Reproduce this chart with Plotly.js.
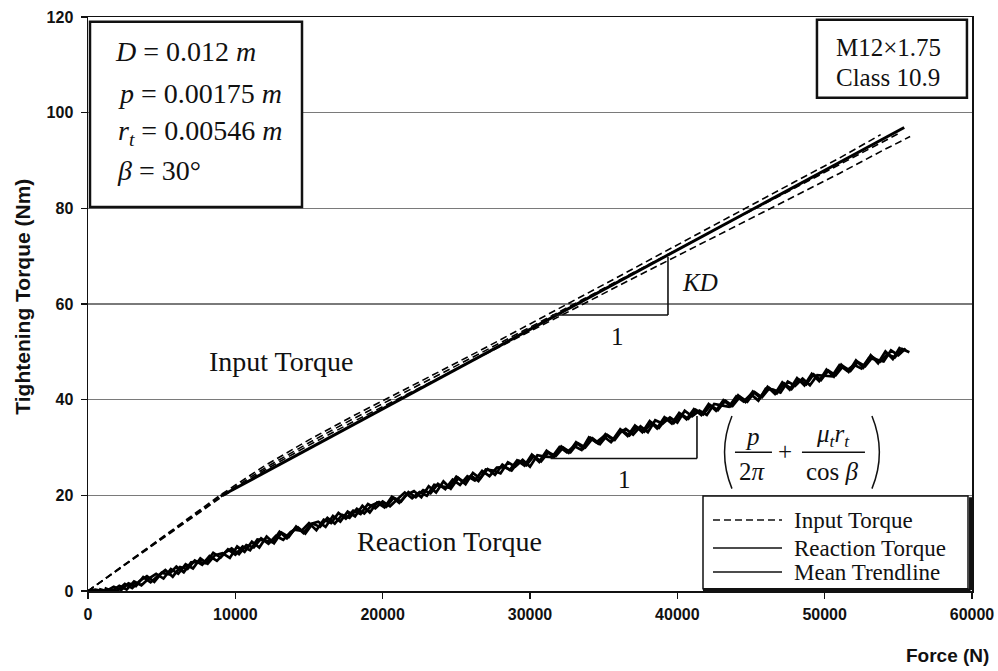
<!DOCTYPE html>
<html>
<head>
<meta charset="utf-8">
<script src="https://cdn.plot.ly/plotly-3.0.1.min.js"></script>
<style>body{margin:0;background:#fff;}#chart{width:998px;height:671px;}</style>
</head>
<body>
<div id="chart"></div>
<script>
// ---- Data ----
const inputForceA  = [0,3000,6000,9000,12000,15000,18000,21000,24000,27000,30000,33000,36000,39000,42000,45000,48000,51000,53800];
const inputTorqueA = [0,6.7,13.4,20.1,26.2,31.6,36.6,41.3,46.1,50.9,55.8,60.7,65.7,70.7,75.7,80.7,85.6,90.5,95.4];
const inputForceB  = [0,3000,6000,9000,12000,15000,18000,21000,24000,27000,30000,33000,36000,39000,42000,45000,48000,51000,54000,55000];
const inputTorqueB = [0,6.6,13.2,19.8,25.7,31.0,36.0,40.7,45.5,50.3,55.1,60.0,64.9,69.8,74.7,79.5,84.3,89.1,93.9,95.6];
const inputForceC  = [0,3000,6000,9000,12000,15000,18000,21000,24000,27000,30000,33000,36000,39000,42000,45000,48000,51000,54000,55800];
const inputTorqueC = [0,6.5,13.0,19.5,25.3,30.5,35.4,40.1,44.8,49.6,54.3,59.0,63.8,68.5,73.2,77.9,82.6,87.3,92.2,95.0];

const meanForce  = [9000, 55400];
const meanTorque = [19.8, 96.9];

const reactForce1 = [0,500,1000,1500,2000,2500,3000,3500,4000,4500,5000,5500,6000,6500,7000,7500,8000,8500,9000,9500,
 10000,10500,11000,11500,12000,12500,13000,13500,14000,14500,15000,15500,16000,16500,17000,17500,18000,18500,19000,19500,
 20000,20500,21000,21500,22000,22500,23000,23500,24000,24500,25000,25500,26000,26500,27000,27500,28000,28500,29000,29500,
 30000,30500,31000,31500,32000,32500,33000,33500,34000,34500,35000,35500,36000,36500,37000,37500,38000,38500,39000,39500,
 40000,40500,41000,41500,42000,42500,43000,43500,44000,44500,45000,45500,46000,46500,47000,47500,48000,48500,49000,49500,
 50000,50500,51000,51500,52000,52500,53000,53500,54000,54500,55000,55500];
const reactTorque1 = [0.0,0.3,0.0,0.3,0.1,1.5,0.6,2.1,3.1,1.9,3.8,3.5,5.1,3.9,6.0,6.1,5.8,8.0,7.0,8.7,
 7.6,9.3,8.5,10.8,10.6,10.2,12.4,11.0,12.8,12.6,14.2,12.7,14.9,14.2,16.3,15.1,16.8,16.1,18.2,17.3,
 18.7,17.7,19.2,20.6,19.4,20.7,19.9,22.2,21.9,21.6,23.9,22.8,24.1,23.0,25.4,25.2,24.6,26.9,26.0,27.4,
 26.0,28.4,28.1,28.0,30.1,29.0,30.3,29.5,32.1,31.1,32.3,31.1,32.9,33.9,32.7,34.4,33.2,35.7,35.0,36.3,
 35.2,37.7,36.5,37.7,36.8,39.1,38.8,38.5,40.7,39.6,41.1,39.8,42.3,42.1,41.5,43.8,42.9,44.4,43.0,45.1,
 45.0,44.9,47.2,46.1,47.3,46.5,48.7,48.4,48.0,50.3,49.3,50.7];

const reactForce2 = [750,1250,1750,2250,2750,3250,3750,4250,4750,5250,5750,6250,6750,7250,7750,8250,8750,9250,9750,
 10250,10750,11250,11750,12250,12750,13250,13750,14250,14750,15250,15750,16250,16750,17250,17750,18250,18750,19250,19750,
 20250,20750,21250,21750,22250,22750,23250,23750,24250,24750,25250,25750,26250,26750,27250,27750,28250,28750,29250,29750,
 30250,30750,31250,31750,32250,32750,33250,33750,34250,34750,35250,35750,36250,36750,37250,37750,38250,38750,39250,39750,
 40250,40750,41250,41750,42250,42750,43250,43750,44250,44750,45250,45750,46250,46750,47250,47750,48250,48750,49250,49750,
 50250,50750,51250,51750,52250,52750,53250,53750,54250,54750,55250,55750];
const reactTorque2 = [0.4,0.0,0.9,0.2,1.6,1.0,2.9,1.8,3.2,4.4,3.0,5.0,4.6,6.4,5.5,7.3,6.3,7.9,8.9,
 7.7,9.6,9.1,11.0,9.9,11.5,10.7,12.3,13.3,12.0,14.1,13.4,15.3,14.1,15.9,15.3,17.2,16.2,17.9,18.6,
 17.6,19.5,18.7,20.7,19.6,21.1,20.4,22.4,21.3,23.3,22.2,24.0,23.1,25.1,24.0,25.8,25.9,25.2,27.2,26.3,
 28.2,27.1,29.0,28.2,30.0,29.0,30.9,30.0,31.9,30.7,32.6,31.6,33.6,32.5,34.3,33.3,35.2,34.1,36.1,35.1,
 37.0,36.0,37.9,36.9,38.8,37.8,39.8,38.7,40.6,39.6,41.6,40.5,42.4,41.3,43.4,42.2,44.2,43.2,45.3,44.1,
 46.1,45.1,47.0,46.0,47.9,47.0,48.9,47.9,49.5,48.8,50.6,49.9];

const reactForce3 = [1125,1625,2125,2625,3125,3625,4125,4625,5125,5625,6125,6625,7125,7625,8125,8625,9125,9625,
 10125,10625,11125,11625,12125,12625,13125,13625,14125,14625,15125,15625,16125,16625,17125,17625,18125,18625,19125,19625,
 20125,20625,21125,21625,22125,22625,23125,23625,24125,24625,25125,25625,26125,26625,27125,27625,28125,28625,29125,29625,
 30125,30625,31125,31625,32125,32625,33125,33625,34125,34625,35125,35625,36125,36625,37125,37625,38125,38625,39125,39625,
 40125,40625,41125,41625,42125,42625,43125,43625,44125,44625,45125,45625,46125,46625,47125,47625,48125,48625,49125,49625,
 50125,50625,51125,51625,52125,52625,53125,53625,54125,54625,55125];
const reactTorque3 = [0.6,0.0,1.1,0.3,2.0,1.2,2.6,3.6,2.6,4.6,3.6,5.6,4.7,6.8,5.7,7.5,7.9,6.9,
 9.3,8.2,10.3,9.1,11.4,10.0,12.2,11.3,13.5,12.1,14.0,14.5,13.4,15.7,14.5,16.6,15.6,17.8,16.4,18.5,
 17.5,19.7,18.4,20.1,20.9,19.6,21.9,20.6,22.9,21.4,23.6,22.3,24.7,23.5,25.5,24.3,26.4,25.3,27.3,26.2,
 28.5,27.0,29.3,28.0,30.2,28.9,31.1,29.8,32.0,30.8,32.8,31.6,33.8,32.4,34.6,33.2,35.5,34.0,36.3,35.0,
 37.2,35.9,38.0,36.8,39.1,37.7,39.9,38.6,40.9,39.5,41.7,40.4,42.7,41.2,43.6,42.1,44.5,43.0,45.4,43.9,
 46.3,44.8,47.3,45.8,48.2,46.7,49.3,47.6,50.1,48.5,51.0];

const xTickVals = [0,10000,20000,30000,40000,50000,60000];
const yTickVals = [0,20,40,60,80,100,120];
const legendLabels = ["Input Torque","Reaction Torque","Mean Trendline"];

// ---- Traces ----
const serif = "Liberation Serif, Times New Roman, serif";
const sans = "Liberation Sans, Arial, sans-serif";
const reactLine = {color:"#000", width:2.7};
const traces = [
  {x: reactForce1, y: reactTorque1, mode:"lines", line:reactLine},
  {x: reactForce2, y: reactTorque2, mode:"lines", line:reactLine},
  {x: reactForce3, y: reactTorque3, mode:"lines", line:reactLine},
  {x: inputForceA, y: inputTorqueA, mode:"lines", line:{color:"#000", width:1.6, dash:"7px,4px"}},
  {x: inputForceB, y: inputTorqueB, mode:"lines", line:{color:"#000", width:1.6, dash:"7px,4px"}},
  {x: inputForceC, y: inputTorqueC, mode:"lines", line:{color:"#000", width:1.6, dash:"7px,4px"}},
  {x: meanForce, y: meanTorque, mode:"lines", line:{color:"#000", width:3}}
];

function txt(text, x, y, size, extra) {
  return Object.assign({text: text, x: x, y: y, xref:"x", yref:"y", showarrow:false,
    font:{family: serif, size: size, color:"#111"}}, extra || {});
}

const annotations = [
  // top-left parameter box
  txt("<i>D</i> = 0.012 <i>m</i>", 1700, 112.7, 28, {xanchor:"left"}),
  txt("<i>p</i> = 0.00175 <i>m</i>", 1900, 104.1, 28, {xanchor:"left"}),
  txt("<i>r<sub>t</sub></i> = 0.00546 <i>m</i>", 1900, 95.8, 28, {xanchor:"left"}),
  txt("<i>β</i> = 30°", 1800, 88.0, 28, {xanchor:"left"}),
  // top-right box
  txt("M12×1.75", 54300, 113.7, 25),
  txt("Class 10.9", 54300, 107.4, 25),
  // curve labels
  txt("Input Torque", 8077, 47.9, 28, {xanchor:"left"}),
  txt("Reaction Torque", 18121, 10.3, 28, {xanchor:"left"}),
  // slope triangle labels
  txt("<i>KD</i>", 40180, 64.4, 25, {xanchor:"left"}),
  txt("1", 35972, 53.3, 25),
  txt("1", 36447, 23.4, 25),
  // formula
  txt("<i>p</i>", 45134, 32.4, 25),
  txt("2<i>π</i>", 45134, 25.0, 25),
  txt("+", 47305, 29.2, 25),
  txt("<i>μ<sub>t</sub>r<sub>t</sub></i>", 50564, 32.6, 25),
  txt("cos <i>β</i>", 50564, 25.0, 25),
  // legend texts
  txt(legendLabels[0], 47783, 14.84, 23, {xanchor:"left"}),
  txt(legendLabels[1], 47783, 8.99, 23, {xanchor:"left"}),
  txt(legendLabels[2], 47783, 3.97, 23, {xanchor:"left"}),
  // axis titles
  {text:"<b>Tightening Torque (Nm)</b>", xref:"paper", yref:"paper", x:-0.074, y:0.512, textangle:-90,
   showarrow:false, xanchor:"center", yanchor:"middle", font:{family: sans, size: 21, color:"#111"}},
  {text:"<b>Force (N)</b>", xref:"paper", yref:"paper", x:1.021, y:-0.112, showarrow:false,
   xanchor:"right", yanchor:"middle", font:{family: sans, size: 19, color:"#111"}}
];

const L = (x0,y0,x1,y1,w,dash) => ({type:"line", xref:"x", yref:"y", x0:x0, y0:y0, x1:x1, y1:y1,
  line:{color:"#111", width:w || 1.5, dash: dash || "solid"}});
const R = (x0,y0,x1,y1,w) => ({type:"rect", xref:"x", yref:"y", x0:x0, y0:y0, x1:x1, y1:y1,
  fillcolor:"#fff", line:{color:"#111", width:w}});
const P = (path) => ({type:"path", xref:"x", yref:"y", path:path, line:{color:"#111", width:1.5}});

const shapes = [
  R(136, 80.3, 14525, 119.0, 2.5),
  R(49477, 103.1, 59657, 119.4, 2.5),
  // legend box + shadow
  R(41742, 0.45, 59729, 19.86, 1.5),
  L(41742, 0.2, 59900, 0.2, 3),
  L(59900, 0.2, 59900, 19.6, 3),
  L(42421, 14.84, 47104, 14.84, 1.6, "7px,4px"),
  L(42421, 8.99, 47104, 8.99, 1.6),
  L(42421, 3.97, 47104, 3.97, 1.6),
  // slope triangles
  L(31500, 57.7, 39365, 57.7, 1.6),
  L(39365, 57.7, 39365, 69.8, 1.6),
  L(31400, 27.7, 41333, 27.7, 1.6),
  L(41333, 27.7, 41333, 36.6, 1.6),
  // fraction bars
  L(43912, 29.0, 46423, 29.0, 1.4),
  L(48459, 29.0, 52735, 29.0, 1.4),
  // big parentheses
  P("M 43708,36.6 Q 42700,29.0 43708,21.4"),
  P("M 53209,36.6 Q 54217,29.0 53209,21.4")
];
shapes.forEach(s => { s.layer = "above"; });

const axisCommon = {
  showline:true, linecolor:"#111", linewidth:1.5, mirror:true,
  ticks:"outside", ticklen:6, tickwidth:1.5, tickcolor:"#111",
  tickfont:{family: sans, size: 16, color:"#111", weight:"bold"},
  zeroline:false
};

const layout = {
  width: 998, height: 671,
  margin:{l:88, r:26, t:17, b:80},
  paper_bgcolor:"#fff", plot_bgcolor:"#fff",
  showlegend:false,
  xaxis: Object.assign({}, axisCommon, {range:[0,60000], tickvals:xTickVals, ticktext:xTickVals.map(String),
    showgrid:false, ticklabelstandoff:2}),
  yaxis: Object.assign({}, axisCommon, {range:[0,120], tickvals:yTickVals, ticktext:yTickVals.map(String),
    showgrid:true, gridcolor:"#7a7a7a", gridwidth:1.5, ticklabelstandoff:4}),
  annotations: annotations,
  shapes: shapes
};

Plotly.newPlot("chart", traces, layout, {displayModeBar:false, staticPlot:true});
</script>
</body>
</html>
